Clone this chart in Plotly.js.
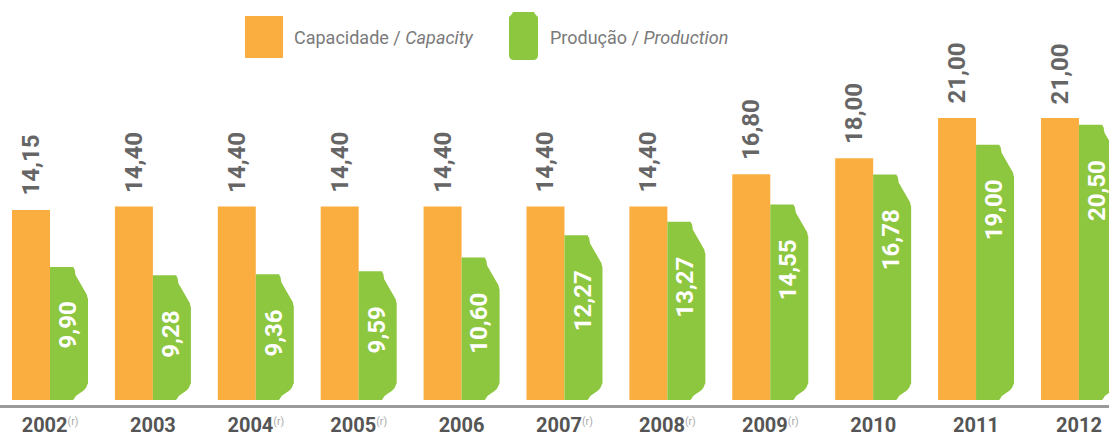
<!DOCTYPE html>
<html><head><meta charset="utf-8">
<script src="https://cdn.plot.ly/plotly-3.0.1.min.js"></script>
<style>html,body{margin:0;padding:0;background:#fff;overflow:hidden}#chart{width:1109px;height:436px}</style>
</head><body><div id="chart"></div>
<script>
// ---- data ----
const years = ['2002','2003','2004','2005','2006','2007','2008','2009','2010','2011','2012'];
const revised = [true,false,true,true,false,true,true,true,false,false,false];
const capacity = [14.15,14.40,14.40,14.40,14.40,14.40,14.40,16.80,18.00,21.00,21.00];
const production = [9.90,9.28,9.36,9.59,10.60,12.27,13.27,14.55,16.78,19.00,20.50];
const seriesNames = ['Capacidade / <i>Capacity</i>','Produção / <i>Production</i>'];

// ---- style ----
const FONT = "Roboto, 'Liberation Sans', sans-serif";
const ORANGE = '#FBAE40';
const GREEN = '#8DC63F';
const W = 1109, H = 436, PLOT_H = 405;
const fmt = v => v.toFixed(2).replace('.', ',');

const tickLabels = years.map((y,i) => revised[i]
  ? y + '<span style="font-size:15px;font-weight:normal;color:#aaaaaa"><sup>(r)</sup></span>'
  : y);

const traces = [
  {type:'bar', name:'Capacidade / Capacity', x:years, y:capacity,
   marker:{color:ORANGE, line:{width:0}}, hoverinfo:'skip'},
  {type:'bar', name:'Produção / Production', x:years, y:production,
   marker:{color:GREEN, line:{width:0}}, hoverinfo:'skip'}
];

const annotations = [];
years.forEach((y,i) => {
  annotations.push({x:i, y:capacity[i], xref:'x', yref:'y', text:fmt(capacity[i]),
    textangle:-90, showarrow:false, xanchor:'center', yanchor:'bottom', xshift:-19, yshift:13,
    borderpad:0, font:{family:FONT, size:24, color:'#666666', weight:'bold'}});
  annotations.push({x:i, y:production[i], xref:'x', yref:'y', text:fmt(production[i]),
    textangle:-90, showarrow:false, xanchor:'center', yanchor:'top', xshift:18, yshift:-34,
    borderpad:0, font:{family:FONT, size:24, color:'#ffffff', weight:'bold'}});
});
// legend texts
const px2x = px => px / W;
const px2y = py => (PLOT_H - py) / PLOT_H;
annotations.push({xref:'paper', yref:'paper', x:px2x(292), y:px2y(38), xanchor:'left', yanchor:'middle',
  text:seriesNames[0], showarrow:false, font:{family:FONT, size:18, color:'#7a7a7a'}});
annotations.push({xref:'paper', yref:'paper', x:px2x(548), y:px2y(38), xanchor:'left', yanchor:'middle',
  text:seriesNames[1], showarrow:false, font:{family:FONT, size:18, color:'#7a7a7a'}});

const shapes = [];
// bottle cut-outs on production bars (pixel paths anchored at each bar)
years.forEach((y,i) => {
  shapes.push({type:'path', xref:'x', yref:'y', xsizemode:'pixel', ysizemode:'pixel',
    xanchor:i, yanchor:production[i], layer:'above', line:{width:0}, fillcolor:'#ffffff',
    path:'M 23.5 1 L 23.5 -1 Q 25 -2 25 -5 L 25.5 -8 L 37 -28 L 37.5 -31 L 40 -33 L 40 1 Z'});
  shapes.push({type:'path', xref:'x', yref:'y', xsizemode:'pixel', ysizemode:'pixel',
    xanchor:i, yanchor:0, layer:'above', line:{width:0}, fillcolor:'#ffffff',
    path:'M 40 -1 L 40 18 L 37.5 16 Q 36 10 30 7 Q 26 5 24 1 Q 23 0 22 -1 Z'});
});
// legend swatches
shapes.push({type:'rect', xref:'paper', yref:'paper', x0:px2x(245), x1:px2x(283), y0:px2y(58), y1:px2y(16),
  line:{width:0}, fillcolor:ORANGE});
shapes.push({type:'path', xref:'paper', yref:'paper', xsizemode:'pixel', ysizemode:'pixel',
  xanchor:px2x(509), yanchor:px2y(12), line:{width:0}, fillcolor:GREEN,
  path:'M 4 0 L 25 0 L 26 -2 L 29 -5 L 29 -43 Q 29 -48 24 -48 L 5 -48 Q 0 -48 0 -43 L 0 -5 L 3 -2 Z'});

const layout = {
  width:W, height:H, margin:{l:0, r:0, t:0, b:H-PLOT_H, pad:0},
  paper_bgcolor:'#ffffff', plot_bgcolor:'#ffffff',
  barmode:'group', bargap:0.2614, bargroupgap:0, showlegend:false,
  xaxis:{type:'category', range:[-0.486, 10.292], tickmode:'array', tickvals:years, ticktext:tickLabels,
    showline:true, linecolor:'#9b9b9b', linewidth:2.5, ticks:'', showgrid:false, zeroline:false,
    tickfont:{family:FONT, size:20, color:'#555555', weight:'bold'}, ticklabelstandoff:0, fixedrange:true},
  yaxis:{range:[-0.372, 29.78], visible:false, showgrid:false, zeroline:false, fixedrange:true},
  annotations:annotations, shapes:shapes
};

Plotly.newPlot('chart', traces, layout, {staticPlot:true, displayModeBar:false});
</script>
</body></html>
